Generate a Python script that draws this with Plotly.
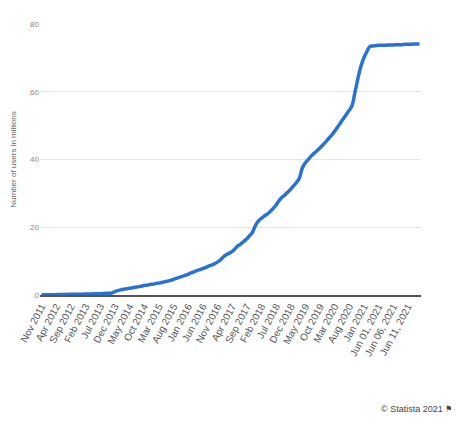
import plotly.graph_objects as go

months = ["Jan","Feb","Mar","Apr","May","Jun","Jul","Aug","Sep","Oct","Nov","Dec"]
categories = []
y, m = 2011, 10
while (y, m) <= (2021, 4):
    categories.append(f"{months[m]} {y}")
    m += 1
    if m == 12:
        m, y = 0, y + 1
categories += [f"Jun {d:02d}, 2021" for d in range(1, 16)]

users = [
 0.1,0.1,0.1,0.1,0.1,0.1,0.15,0.15,0.15,0.2,
 0.2,0.2,0.2,0.25,0.25,0.3,0.3,0.3,0.35,0.4,
 0.4,0.45,0.5,0.5,0.6,1.0,1.3,1.5,1.7,1.8,
 2.0,2.1,2.3,2.4,2.6,2.8,2.9,3.1,3.2,3.4,
 3.5,3.7,3.9,4.1,4.3,4.6,4.9,5.2,5.5,5.8,
 6.1,6.5,6.8,7.2,7.5,7.8,8.1,8.5,8.8,9.2,
 9.7,10.3,11.2,11.9,12.3,12.8,13.6,14.5,15.0,15.8,
 16.5,17.5,18.5,20.5,21.8,22.6,23.3,23.9,24.6,25.5,
 26.5,27.8,28.8,29.5,30.3,31.2,32.2,33.2,34.5,37.5,
 39.0,40.0,41.0,41.8,42.6,43.4,44.3,45.2,46.2,47.2,
 48.3,49.5,50.8,52.0,53.3,54.5,56.0,60.0,64.0,67.5,
 70.0,71.8,73.3,73.5,73.6,
 73.7,73.7,73.7,73.8,73.8,73.8,73.9,73.9,73.9,74.0,74.0,74.0,74.1,74.1,74.1,
]

tickvals = categories[::5]

fig = go.Figure(go.Scatter(x=categories, y=users, mode="lines",
                           line=dict(color="#2872d1", width=3.5, shape="spline")))
fig.update_layout(
    width=459, height=424, margin=dict(l=32, r=46, t=16, b=137),
    plot_bgcolor="white", paper_bgcolor="white", showlegend=False,
    font=dict(family="Liberation Sans, Arial", color="#666", size=9),
    xaxis=dict(type="category", tickvals=tickvals, tickangle=-62, showgrid=False,
               automargin=False,
               showline=True, linecolor="#555", linewidth=1.5, ticks="",
               tickfont=dict(size=10, color="#555"), range=[-0.5, len(categories)-0.5]),
    yaxis=dict(range=[0, 80], dtick=20, gridcolor="#e6e6e6", zeroline=False, automargin=False,
               title=dict(text="Number of users in millions", font=dict(size=8, color="#666"), standoff=12),
               tickfont=dict(size=8, color="#888")),
    annotations=[dict(text="© Statista 2021 ⚑", xref="paper", yref="paper", x=1.09, y=-0.42,
                      xanchor="right", yanchor="middle", showarrow=False,
                      font=dict(size=9, color="#444"))],
)
fig.write_html("out.html")
